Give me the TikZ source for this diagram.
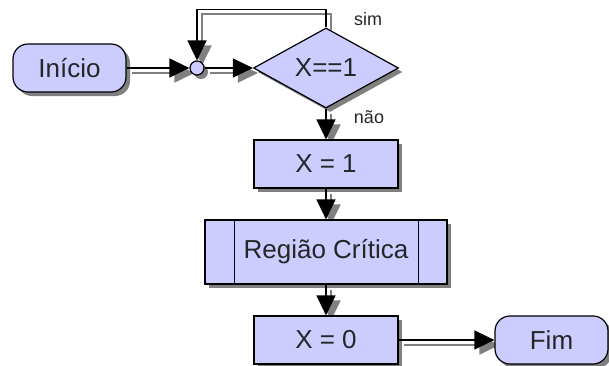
\documentclass[tikz,border=0pt]{standalone}
\usepackage{fontspec}
\setmainfont{Liberation Sans}
\usetikzlibrary{arrows.meta,shapes.geometric,shadows,backgrounds}
\definecolor{boxfill}{HTML}{CCCCFF}
\definecolor{txt}{HTML}{262626}
\begin{document}
\begin{tikzpicture}[x=1pt,y=-1pt,
  shp/.style={draw=black,line width=1.2pt,fill=boxfill,text=txt,
    font=\fontsize{26}{30}\selectfont,inner sep=0pt,
    drop shadow={shadow xshift=4pt,shadow yshift=-4pt,opacity=1,fill=black!50}},
  term/.style={shp,rectangle,rounded corners=15pt,minimum width=113pt,minimum height=48pt},
  proc/.style={shp,rectangle,minimum width=144pt,minimum height=48pt},
  dec/.style={shp,diamond,minimum width=145pt,minimum height=76pt},
  junc/.style={shp,circle,minimum size=14pt,
    drop shadow={shadow xshift=2pt,shadow yshift=-2pt,opacity=1,fill=black!50}},
  conn/.style={draw=black,line width=1.3pt,-{Triangle[length=20pt,width=19pt]}},
  shad/.style={draw=black!50,line width=2pt,-{Triangle[length=20pt,width=19pt]},black!50},
  lbl/.style={text=txt,font=\fontsize{18}{20}\selectfont,inner sep=0pt}
]
\useasboundingbox (0,0) rectangle (609,365);
% nodes
\node[term] (ini) at (69.5,68) {Início};
\node[junc] (jn) at (197,68) {};
\node[dec] (dec) at (326,68) {X==1};
\node[proc] (x1) at (326,164) {X = 1};
\node[proc,minimum width=242pt,minimum height=64pt] (reg) at (326,252) {Região Crítica};
\draw[line width=1.2pt] ([xshift=30pt]reg.north west) -- ([xshift=30pt]reg.south west)
                        ([xshift=-29pt]reg.north east) -- ([xshift=-29pt]reg.south east);
\node[proc] (x0) at (326,340) {X = 0};
\node[term] (fim) at (551.5,340) {Fim};
\node[lbl] (sim) at (368,19) {sim};
\node[lbl] (nao) at (369,117) {não};
% connector shadows
\begin{scope}[on background layer]
  \draw[shad] ([shift={(5,5)}]ini.east) -- ([shift={(5,5)}]jn.west);
  \draw[shad] ([shift={(5,5)}]jn.east) -- ([shift={(5,5)}]dec.west);
  \draw[shad] ([shift={(5,5)}]dec.north) -- ([shift={(5,-13)}]dec.north) -| ([shift={(5,5)}]jn.north);
  \draw[shad] ([shift={(5,5)}]dec.south) -- ([shift={(5,5)}]x1.north);
  \draw[shad] ([shift={(5,5)}]x1.south) -- ([shift={(5,5)}]reg.north);
  \draw[shad] ([shift={(5,5)}]reg.south) -- ([shift={(5,5)}]x0.north);
  \draw[shad] ([shift={(5,5)}]x0.east) -- ([shift={(5,5)}]fim.west);
\end{scope}
% connectors
\draw[conn] (ini.east) -- (jn.west);
\draw[conn] (jn.east) -- (dec.west);
\draw[conn] (dec.north) -- ([yshift=18pt]dec.north) -| (jn.north);
\draw[conn] (dec.south) -- (x1.north);
\draw[conn] (x1.south) -- (reg.north);
\draw[conn] (reg.south) -- (x0.north);
\draw[conn] (x0.east) -- (fim.west);
\end{tikzpicture}
\end{document}
